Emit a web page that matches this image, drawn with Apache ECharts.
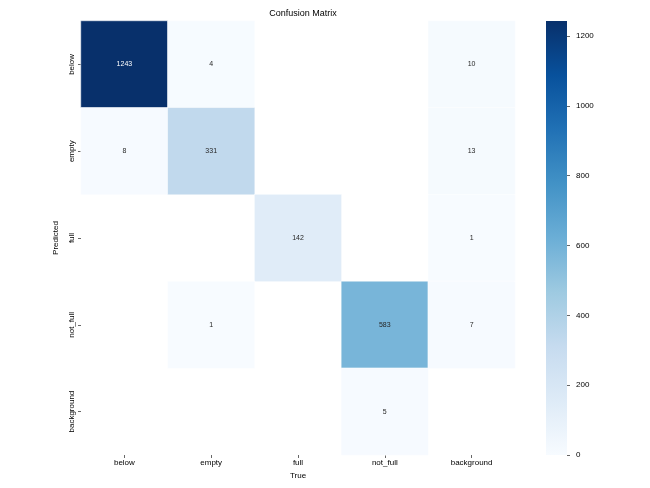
<!DOCTYPE html>
<html>
<head>
<meta charset="utf-8">
<script src="https://cdn.jsdelivr.net/npm/echarts@6/dist/echarts.min.js"></script>
<style>html,body{margin:0;padding:0;background:#fff}#c{width:650px;height:488px}</style>
</head>
<body>
<div id="c"></div>
<script>
const trueLabels = ['below', 'empty', 'full', 'not_full', 'background'];
const predLabels = ['below', 'empty', 'full', 'not_full', 'background'];
const rowBelow = [1243, 4, 0, 0, 10];
const rowEmpty = [8, 331, 0, 0, 13];
const rowFull = [0, 0, 142, 0, 1];
const rowNotFull = [0, 1, 0, 583, 7];
const rowBackground = [0, 0, 0, 5, 0];
const colorbarTicks = [0, 200, 400, 600, 800, 1000, 1200];
const blues = ['#f7fbff', '#deebf7', '#c6dbef', '#9ecae1', '#6baed6', '#4292c6', '#2171b5', '#08519c', '#08306b'];

const rows = [rowBelow, rowEmpty, rowFull, rowNotFull, rowBackground];
const vmax = Math.max(...rows.flat());
const data = [];
rows.forEach((r, yi) => r.forEach((v, xi) => {
  if (v > 0) {
    data.push({
      value: [xi, yi, v],
      label: { color: v > vmax * 0.6 ? '#ffffff' : '#262626' }
    });
  }
}));

const gradStops = blues.map((c, i) => ({ offset: i / (blues.length - 1), color: c }));
const font = 'Liberation Sans, Arial, sans-serif';
const chart = echarts.init(document.getElementById('c'));
chart.setOption({
  animation: false,
  title: {
    text: 'Confusion Matrix', left: 298, top: 4, textAlign: 'center',
    textStyle: { fontFamily: font, fontSize: 9, fontWeight: 'normal', color: '#000' }
  },
  grid: [
    { left: 81, right: 135, top: 21, bottom: 33 },
    {
      left: 546, width: 21, top: 21, height: 434, show: true, borderWidth: 0,
      backgroundColor: new echarts.graphic.LinearGradient(0, 1, 0, 0, gradStops)
    }
  ],
  xAxis: [
    {
      type: 'category', data: trueLabels, gridIndex: 0,
      name: 'True', nameLocation: 'middle', nameGap: 16,
      nameTextStyle: { fontFamily: font, fontSize: 8, color: '#000' },
      axisLine: { show: false },
      axisTick: { show: true, alignWithLabel: true, length: 3, lineStyle: { color: '#000', width: 0.6 } },
      axisLabel: { fontFamily: font, fontSize: 8, color: '#000', margin: 4 },
      splitLine: { show: false }
    },
    { type: 'value', gridIndex: 1, show: false, min: 0, max: 1 }
  ],
  yAxis: [
    {
      type: 'category', data: predLabels, gridIndex: 0, inverse: true,
      name: 'Predicted', nameLocation: 'middle', nameGap: 12, nameRotate: 90,
      nameTextStyle: { fontFamily: font, fontSize: 8, color: '#000' },
      axisLine: { show: false },
      axisTick: { show: true, alignWithLabel: true, length: 3, lineStyle: { color: '#000', width: 0.6 } },
      axisLabel: { fontFamily: font, fontSize: 8, color: '#000', rotate: 90, margin: 5 },
      splitLine: { show: false }
    },
    {
      type: 'value', gridIndex: 1, position: 'right', min: 0, max: vmax,
      axisLine: { show: false, onZero: false },
      axisTick: { show: true, inside: false, length: 3, lineStyle: { color: '#000', width: 0.6 }, customValues: colorbarTicks },
      axisLabel: { fontFamily: font, fontSize: 8, color: '#000', margin: 9, customValues: colorbarTicks,
        formatter: v => String(v) },
      splitLine: { show: false }
    }
  ],
  visualMap: {
    type: 'continuous', min: 0, max: vmax, seriesIndex: 0, show: false,
    inRange: { color: blues }
  },
  series: [{
    type: 'heatmap', xAxisIndex: 0, yAxisIndex: 0,
    data: data,
    itemStyle: { borderColor: '#ffffff', borderWidth: 0.5 },
    label: { show: true, fontFamily: font, fontSize: 7 },
    emphasis: { disabled: true }
  }]
});
</script>
</body>
</html>
